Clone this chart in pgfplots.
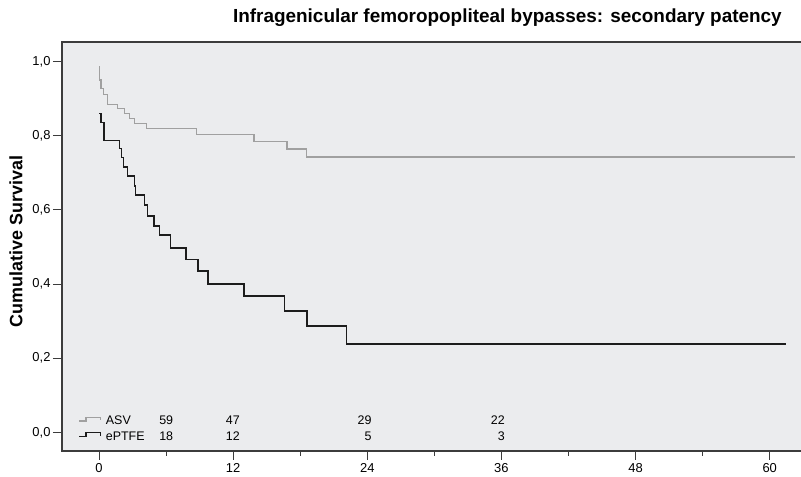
\documentclass[border=0pt]{standalone}
\usepackage{pgfplots}
\pgfplotsset{compat=1.18}
\usepackage{fontspec}
\setmainfont{Liberation Sans}
\definecolor{bgc}{HTML}{EBECEE}
\definecolor{asvc}{HTML}{A0A0A0}
\definecolor{eptc}{HTML}{1C1C1C}
\definecolor{framec}{HTML}{3C3C3C}
\begin{document}
\begin{tikzpicture}
\path[use as bounding box] (0,0) rectangle (801bp,477bp);
\begin{axis}[
  at={(62bp,26bp)}, anchor=south west,
  scale only axis, width=739bp, height=409bp,
  xmin=-3.31, xmax=62.8, ymin=-0.05, ymax=1.053,
  axis background/.style={fill=bgc},
  axis line style={draw=none},
  xtick={0,12,24,36,48,60},
  xticklabels={0,12,24,36,48,60},
  minor xtick={6,18,30,42,54},
  ytick={0,0.2,0.4,0.6,0.8,1.0},
  yticklabels={{0,0},{0,2},{0,4},{0,6},{0,8},{1,0}},
  tick align=outside,
  xtick pos=bottom, ytick pos=left,
  major tick length=9bp, minor tick length=5bp,
  tick style={draw=framec, line width=1bp},
  ticklabel style={font=\fontsize{13}{15}\selectfont, text=black},
  yticklabel style={xshift=1bp},
  clip=false,
]
\addplot[const plot, draw=asvc, line width=1.5bp] coordinates {
(0,0.986) (0.03,0.951) (0.18,0.928) (0.39,0.912) (0.78,0.885) (1.67,0.874)
(2.30,0.860) (2.71,0.847) (3.16,0.833) (4.26,0.820) (8.74,0.804) (13.87,0.785)
(16.84,0.764) (18.58,0.743) (62.25,0.743)
};
\addplot[const plot, draw=eptc, line width=1.5bp] coordinates {
(0,0.860) (0.18,0.836) (0.45,0.788) (1.82,0.766) (2.03,0.741) (2.20,0.716)
(2.53,0.691) (3.16,0.665) (3.28,0.640) (4.05,0.613) (4.32,0.584) (4.92,0.557)
(5.40,0.532) (6.40,0.497) (7.78,0.467) (8.86,0.435) (9.75,0.401) (12.97,0.368)
(16.60,0.327) (18.60,0.287) (22.12,0.239) (61.5,0.239)
};
\draw[framec, line width=1.5bp] (rel axis cs:1,1) -- (rel axis cs:0,1) -- (rel axis cs:0,0) -- (rel axis cs:1,0);
\end{axis}
% y label
\node[rotate=90, anchor=center, inner sep=0pt, font=\fontsize{18}{20}\selectfont\bfseries] at (16bp,235.5bp) {Cumulative Survival};
% legend glyphs and numbers at risk
\draw[asvc, line width=1.2bp] (79bp,56bp) -- (86bp,56bp) -- (86bp,59.5bp) -- (100.5bp,59.5bp) -- (100.5bp,56.5bp);
\draw[eptc, line width=1.4bp] (79bp,40.3bp) -- (86bp,40.3bp) -- (86bp,44.3bp) -- (100.5bp,44.3bp) -- (100.5bp,41bp);
\begin{scope}[every node/.style={inner sep=0pt, font=\fontsize{12.5}{14}\selectfont}]
\node[anchor=base west] at (105.7bp,52.7bp) {ASV};
\node[anchor=base west] at (105.7bp,37bp) {ePTFE};
\node[anchor=base east] at (173.3bp,52.7bp) {59};
\node[anchor=base east] at (240bp,52.7bp) {47};
\node[anchor=base east] at (371.7bp,52.7bp) {29};
\node[anchor=base east] at (505bp,52.7bp) {22};
\node[anchor=base east] at (173.3bp,37bp) {18};
\node[anchor=base east] at (240bp,37bp) {12};
\node[anchor=base east] at (371.7bp,37bp) {5};
\node[anchor=base east] at (505bp,37bp) {3};
\end{scope}
\node[anchor=base east, inner sep=0pt, font=\fontsize{19}{21}\selectfont\bfseries] at (782bp,454.5bp) {Infragenicular femoropopliteal bypasses: secondary patency};
\end{tikzpicture}
\end{document}
